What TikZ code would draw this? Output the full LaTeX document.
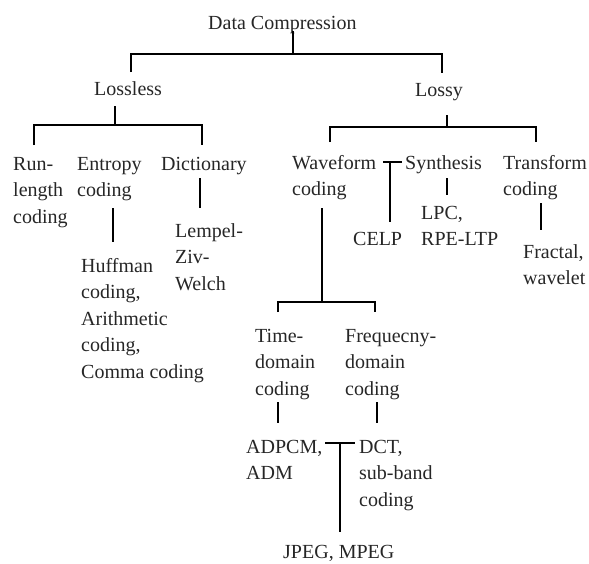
\documentclass[tikz,border=0pt]{standalone}
\usepackage{fontspec}
\setmainfont{Liberation Serif}
\begin{document}
\begin{tikzpicture}[x=1pt,y=-1pt,
  lbl/.style={anchor=base west,inner sep=0pt,align=left,text=black!85,
    font=\fontsize{20}{26.5}\selectfont},
  conn/.style={line width=2.8pt,draw=black}]
\useasboundingbox (0,0) rectangle (589,563);
% nodes (anchor = baseline of the last line)
\node[lbl] (root) at (208,29) {Data Compression};
\node[lbl] (lossless) at (94,95) {Lossless};
\node[lbl] (lossy) at (415,96) {Lossy};
\node[lbl] (run) at (13,223) {Run-\\length\\coding};
\node[lbl] (entropy) at (77,196.5) {Entropy\\coding};
\node[lbl] (dict) at (161,170) {Dictionary};
\node[lbl] (huff) at (81,378) {Huffman\\coding,\\Arithmetic\\coding,\\Comma coding};
\node[lbl] (lzw) at (175,290) {Lempel-\\Ziv-\\Welch};
\node[lbl] (wave) at (292,195.5) {Waveform\\coding};
\node[lbl] (synth) at (405,169) {Synthesis};
\node[lbl] (trans) at (503,195.5) {Transform\\coding};
\node[lbl] (celp) at (353,245) {CELP};
\node[lbl] (lpc) at (421,245.5) {LPC,\\RPE-LTP};
\node[lbl] (fract) at (523,284.5) {Fractal,\\wavelet};
\node[lbl] (time) at (255,395) {Time-\\domain\\coding};
\node[lbl] (freq) at (345,395) {Frequecny-\\domain\\coding};
\node[lbl] (adpcm) at (246,479.5) {ADPCM,\\ADM};
\node[lbl] (dct) at (359,506) {DCT,\\sub-band\\coding};
\node[lbl] (jpeg) at (283,558) {JPEG, MPEG};
% junction coordinates
\coordinate (rT) at (293,31);
\coordinate (rJ) at (293,54);
\coordinate (lsJ) at (131,54);
\coordinate (lsB) at (131,72);
\coordinate (lyJ) at (442,54);
\coordinate (lyB) at (442,73);
\coordinate (llT) at (115,106);
\coordinate (llJ) at (115,125);
\coordinate (llL) at (34,125);
\coordinate (llLB) at (34,145);
\coordinate (llR) at (202,125);
\coordinate (llRB) at (202,145);
\coordinate (lsyT) at (447,115);
\coordinate (lsyJ) at (447,127);
\coordinate (lsyL) at (330,127);
\coordinate (lsyLB) at (330,142);
\coordinate (lsyR) at (536,127);
\coordinate (lsyRB) at (536,142);
\coordinate (enT) at (113,208);
\coordinate (enB) at (113,242);
\coordinate (diT) at (200,178);
\coordinate (diB) at (200,208);
\coordinate (ceL) at (383,162);
\coordinate (ceR) at (402,162);
\coordinate (ceJ) at (390,162);
\coordinate (ceB) at (390,222);
\coordinate (syT) at (447,178);
\coordinate (syB) at (447,195);
\coordinate (trT) at (541,203);
\coordinate (trB) at (541,230);
\coordinate (wvT) at (322,208);
\coordinate (wvJ) at (322,302);
\coordinate (wvL) at (278,302);
\coordinate (wvLB) at (278,312);
\coordinate (wvR) at (375,302);
\coordinate (wvRB) at (375,312);
\coordinate (tmT) at (278,402);
\coordinate (tmB) at (278,423);
\coordinate (frT) at (377,402);
\coordinate (frB) at (377,423);
\coordinate (jpL) at (325,443);
\coordinate (jpR) at (355,443);
\coordinate (jpJ) at (340,443);
\coordinate (jpB) at (340,532);
% connectors
\draw[conn] (rT) -- (rJ);
\draw[conn] (lsB) -- (lsJ) -- (lyJ) -- (lyB);
\draw[conn] (llT) -- (llJ);
\draw[conn] (llLB) -- (llL) -- (llR) -- (llRB);
\draw[conn] (lsyT) -- (lsyJ);
\draw[conn] (lsyLB) -- (lsyL) -- (lsyR) -- (lsyRB);
\draw[conn] (enT) -- (enB);
\draw[conn] (diT) -- (diB);
\draw[conn] (ceL) -- (ceR);
\draw[conn] (ceJ) -- (ceB);
\draw[conn] (syT) -- (syB);
\draw[conn] (trT) -- (trB);
\draw[conn] (wvT) -- (wvJ);
\draw[conn] (wvLB) -- (wvL) -- (wvR) -- (wvRB);
\draw[conn] (tmT) -- (tmB);
\draw[conn] (frT) -- (frB);
\draw[conn] (jpL) -- (jpR);
\draw[conn] (jpJ) -- (jpB);
\end{tikzpicture}
\end{document}
